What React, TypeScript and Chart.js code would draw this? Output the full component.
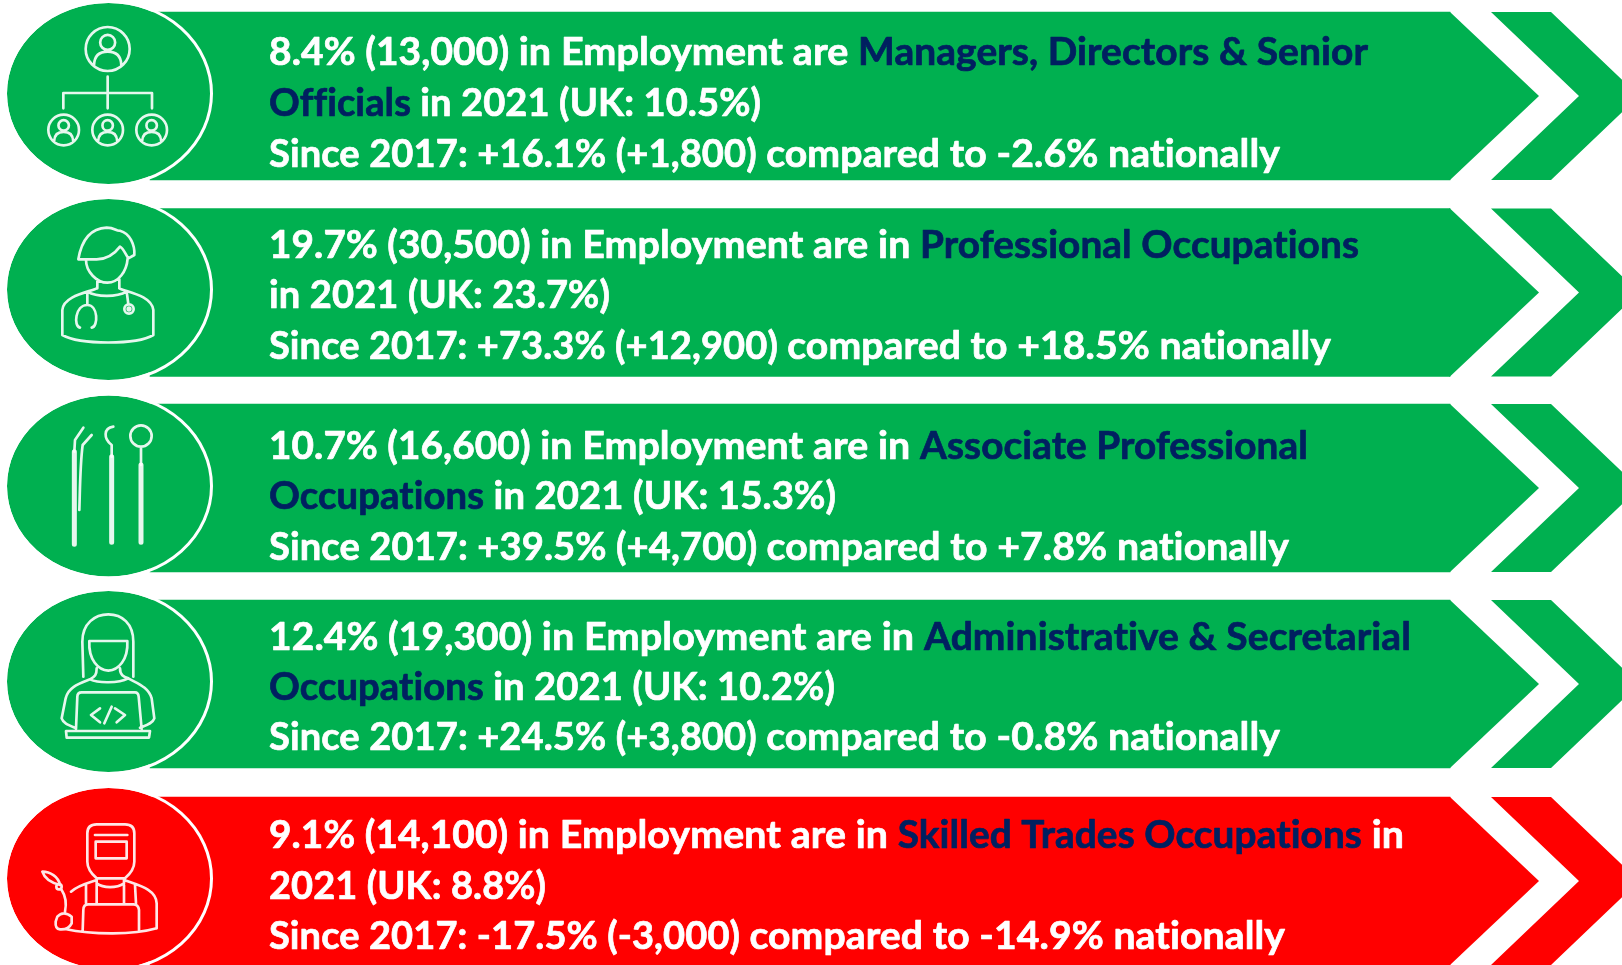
import React, { useEffect, useRef } from "react";
import { Chart, registerables } from "chart.js";

Chart.register(...registerables);

// ---- data ----
const occupations = [
  "Managers, Directors & Senior Officials",
  "Professional Occupations",
  "Associate Professional Occupations",
  "Administrative & Secretarial Occupations",
  "Skilled Trades Occupations",
];
const sharePct = ["8.4%", "19.7%", "10.7%", "12.4%", "9.1%"];
const employed = ["13,000", "30,500", "16,600", "19,300", "14,100"];
const ukSharePct = ["10.5%", "23.7%", "15.3%", "10.2%", "8.8%"];
const changePct = ["+16.1%", "+73.3%", "+39.5%", "+24.5%", "-17.5%"];
const changeAbs = ["+1,800", "+12,900", "+4,700", "+3,800", "-3,000"];
const ukChangePct = ["-2.6%", "+18.5%", "+7.8%", "-0.8%", "-14.9%"];
const leadWords = ["are ", "are in ", "are in ", "are in ", "are in "];
const highlightLine1 = ["Managers, Directors & Senior", "Professional Occupations", "Associate Professional", "Administrative & Secretarial", "Skilled Trades Occupations"];
const tailLine1 = ["", "", "", "", " in"];
const highlightLine2 = ["Officials", "", "Occupations", "Occupations", ""];
const tailLine2 = [" in 2021", "in 2021", " in 2021", " in 2021", "2021"];
const isDecline = [false, false, false, false, true];

// ---- layout (reference pixels, used through the chart's scales) ----
const rowCentres = [96, 292.5, 488, 684, 881];
const bandHeight = 168;
const bandStart = 150;
const bodyEnd = 1450;
const bodyTip = 1539;
const chevInTop = 1491;
const chevInTip = 1579;
const chevOutTop = 1551;
const chevOutTip = 1639;
const circleCx = 108.5;
const circleCentres = [93.5, 289.5, 486, 681.5, 878.5];
const circleRx = 101.5;
const circleRy = 90.5;
const textX = 269;
const baselines = [
  [65, 116, 166.5],
  [258, 308, 359],
  [458.5, 509, 559.5],
  [650, 700, 750],
  [848, 899, 949],
];
const lineEnds = [
  [1368, 761, 1280],
  [1359, 610, 1331],
  [1308, 836, 1289],
  [1411, 835, 1280],
  [1404, 546, 1285],
];
const iconOrigins = [0, 190, 385, 585, 775];
const GREEN = "#00B050";
const RED = "#FF0000";
const NAVY = "#002060";
const FONT = "bold 37.5px Lato";
const SQUEEZE_FIRST = 0.985;
const SQUEEZE_THIRD = 0.972;

// icon outlines, in a 3x glyph space
const person = (cx: number, cy: number, r: number) => {
  const hr = r * 0.34, hy = cy - r * 0.3;
  return `M${cx + r} ${cy}A${r} ${r} 0 1 1 ${cx - r} ${cy}A${r} ${r} 0 1 1 ${cx + r} ${cy}Z` +
    `M${cx + hr} ${hy}A${hr} ${hr} 0 1 1 ${cx - hr} ${hy}A${hr} ${hr} 0 1 1 ${cx + hr} ${hy}Z` +
    `M${cx - r * 0.62} ${cy + r * 0.72}C${cx - r * 0.6} ${cy + r * 0.25} ${cx - r * 0.3} ${cy + r * 0.12} ${cx} ${cy + r * 0.12}` +
    `C${cx + r * 0.3} ${cy + r * 0.12} ${cx + r * 0.6} ${cy + r * 0.25} ${cx + r * 0.62} ${cy + r * 0.72}`;
};
const iconManagers =
  person(323, 147, 66) + person(191, 390, 46) + person(323, 390, 46) + person(455, 390, 46) +
  "M323 230L323 325M190 325L190 279L456 279L456 325";
const iconProfessional =
  "M235 208C245 150 270 115 320 113C345 113 350 125 360 122C390 130 405 165 403 195L385 205C375 190 370 175 360 170C345 190 320 208 290 208Z" +
  "M258 210C258 245 290 278 322 278C355 278 380 245 383 205M292 268L292 295M358 268L358 295" +
  "M290 295C275 305 190 315 187 360L187 435C240 465 410 465 460 435L460 360C455 315 375 305 358 295" +
  "M262 305C290 322 350 322 380 305M262 305L262 345" +
  "M240 413C220 410 225 345 262 345C295 345 295 410 275 413M380 305L385 342" +
  "M401 357A14 14 0 1 1 373 357A14 14 0 1 1 401 357ZM391 357A4 4 0 1 1 383 357A4 4 0 1 1 391 357Z";
const iconAssociateThin =
  "M250 128L225 165L223 200M275 150L248 180C240 240 240 320 238 375" +
  "M340 125C310 130 310 160 335 180L335 215" +
  "M455 153A32 32 0 1 1 391 153A32 32 0 1 1 455 153ZM423 185L423 240";
const iconAssociateThick = "M223 200L223 478M335 215L335 472M423 240L423 472";
const iconAdmin =
  "M250 275L247 170C247 115 285 88 325 88C365 88 400 115 400 170L400 275" +
  "M268 168L382 168C385 225 355 255 325 257C295 255 265 225 268 168Z" +
  "M290 250C290 270 285 275 270 283C295 295 355 295 385 280C370 275 360 270 360 250" +
  "M270 283C240 295 205 305 197 340L185 400C190 415 205 420 225 428" +
  "M385 280C410 295 445 305 455 340L463 400C458 415 440 420 420 428" +
  "M228 432L232 335C232 325 238 322 245 322L405 322C412 322 415 325 416 335L425 432" +
  "M198 438L450 438L447 458L200 458Z" +
  "M300 370L273 390L300 412M345 370L375 390L350 412M335 365L313 415";
const iconTrades =
  "M290 148L375 148Q403 148 403 175L403 260Q403 285 375 310L290 310Q262 285 262 260L262 175Q262 148 290 148Z" +
  "M285 180L382 180M287 200L380 200L380 250L287 250Z" +
  "M290 310L290 325M372 310L372 325M290 325C310 340 350 340 372 325" +
  "M213 350C235 330 260 325 290 315M372 315C410 330 468 340 470 385L470 460" +
  "M258 330L258 385M290 325L290 385M372 330L372 385M405 330L408 385" +
  "M248 467L250 405Q250 388 265 388L400 388Q415 388 417 405L417 470" +
  "M195 462C280 480 400 480 470 460" +
  "M127 290C150 290 175 305 180 330C160 325 135 315 127 290Z" +
  "M185 335A8 8 0 1 1 169 335A8 8 0 1 1 185 335Z" +
  "M185 345C195 360 200 385 195 410" +
  "M172 425Q190 405 215 425L215 445Q205 465 180 463Q165 462 167 440Z";
const iconPaths = [iconManagers, iconProfessional, iconAssociateThin, iconAdmin, iconTrades];

type Seg = { t: string; navy?: boolean; squeeze?: number };
const rowLines = (i: number): Seg[][] => [
  [
    { t: `${sharePct[i]} (${employed[i]}) `, squeeze: SQUEEZE_FIRST },
    { t: `in Employment ${leadWords[i]}` },
    { t: highlightLine1[i], navy: true, squeeze: SQUEEZE_FIRST },
    { t: tailLine1[i] },
  ],
  [
    { t: highlightLine2[i], navy: true },
    { t: `${tailLine2[i]} (UK: ${ukSharePct[i]})` },
  ],
  [
    { t: `Since 2017: ${changePct[i]} (${changeAbs[i]}) `, squeeze: SQUEEZE_THIRD },
    { t: `compared to ${ukChangePct[i]} nationally` },
  ],
];

const infographic = {
  id: "infographic",
  afterDatasetsDraw(chart: any) {
    const { ctx, scales } = chart;
    const X = (v: number) => scales.x.getPixelForValue(v);
    const Y = (v: number) => scales.y.getPixelForValue(v);
    rowCentres.forEach((c, i) => {
      const colour = isDecline[i] ? RED : GREEN;
      const top = c - bandHeight / 2, bot = c + bandHeight / 2;
      ctx.save();
      ctx.fillStyle = colour;
      // arrow head
      ctx.beginPath();
      ctx.moveTo(X(bodyEnd) - 1, Y(top));
      ctx.lineTo(X(bodyEnd), Y(top));
      ctx.lineTo(X(bodyTip), Y(c));
      ctx.lineTo(X(bodyEnd), Y(bot));
      ctx.lineTo(X(bodyEnd) - 1, Y(bot));
      ctx.closePath();
      ctx.fill();
      // outer chevron
      ctx.beginPath();
      ctx.moveTo(X(chevInTop), Y(top));
      ctx.lineTo(X(chevOutTop), Y(top));
      ctx.lineTo(X(chevOutTip), Y(c));
      ctx.lineTo(X(chevOutTop), Y(bot));
      ctx.lineTo(X(chevInTop), Y(bot));
      ctx.lineTo(X(chevInTip), Y(c));
      ctx.closePath();
      ctx.fill();
      // icon disc
      ctx.beginPath();
      ctx.ellipse(X(circleCx), Y(circleCentres[i]), circleRx, circleRy, 0, 0, Math.PI * 2);
      ctx.fillStyle = colour;
      ctx.fill();
      ctx.beginPath();
      ctx.ellipse(X(circleCx), Y(circleCentres[i]), circleRx + 1.5, circleRy + 1.5, 0, 0, Math.PI * 2);
      ctx.strokeStyle = "#ffffff";
      ctx.lineWidth = 3;
      ctx.stroke();
      // icon
      ctx.save();
      ctx.translate(X(0), Y(iconOrigins[i]));
      ctx.scale(1 / 3, 1 / 3);
      ctx.strokeStyle = "rgba(255,255,255,0.9)";
      ctx.lineWidth = 8;
      ctx.lineCap = "round";
      ctx.lineJoin = "round";
      ctx.stroke(new Path2D(iconPaths[i]));
      if (i === 2) {
        ctx.lineWidth = 15;
        ctx.stroke(new Path2D(iconAssociateThick));
      }
      ctx.restore();
      // text
      ctx.font = FONT;
      ctx.textBaseline = "alphabetic";
      ctx.textAlign = "left";
      ctx.lineJoin = "round";
      (ctx as any).letterSpacing = "0.1px";
      (ctx as any).textRendering = "optimizeSpeed";
      rowLines(i).forEach((segs, l) => {
        const segW = (g: Seg) => ctx.measureText(g.t).width * (g.squeeze ?? 1);
        const natural = segs.reduce((s, g) => s + segW(g), 0);
        const sx = (lineEnds[i][l] - textX) / natural;
        ctx.save();
        ctx.translate(X(textX), Y(baselines[i][l]));
        ctx.scale(sx, 1);
        let pen = 0;
        segs.forEach((g) => {
          const fill = g.navy ? NAVY : "#ffffff";
          ctx.save();
          ctx.translate(pen, 0);
          ctx.scale(g.squeeze ?? 1, 1);
          ctx.fillStyle = fill;
          ctx.strokeStyle = fill;
          ctx.lineWidth = 0.7;
          ctx.strokeText(g.t, 0, 0);
          ctx.fillText(g.t, 0, 0);
          ctx.restore();
          pen += segW(g);
        });
        ctx.restore();
      });
      ctx.restore();
    });
  },
};

export default function App() {
  const ref = useRef<HTMLCanvasElement>(null);
  useEffect(() => {
    const chart = new Chart(ref.current as HTMLCanvasElement, {
      type: "bar",
      data: {
        labels: occupations,
        datasets: [
          {
            label: "Occupations",
            data: rowCentres.map((c) => ({ x: [bandStart, bodyEnd], y: c })) as any,
            backgroundColor: isDecline.map((d) => (d ? RED : GREEN)),
            barThickness: bandHeight,
            borderWidth: 0,
            borderSkipped: false,
          },
        ],
      },
      options: {
        indexAxis: "y",
        responsive: false,
        animation: false,
        layout: { padding: 0 },
        plugins: { legend: { display: false }, tooltip: { enabled: false }, title: { display: false } },
        scales: {
          x: { type: "linear", min: 0, max: 1622, display: false },
          y: { type: "linear", min: 0, max: 965, reverse: true, offset: false, display: false },
        },
      },
      plugins: [infographic],
    } as any);
    return () => chart.destroy();
  }, []);
  return (
    <canvas
      ref={ref}
      width={1622}
      height={965}
      style={{ position: "fixed", left: 0, top: 0, width: 1622, height: 965, display: "block" }}
    />
  );
}
